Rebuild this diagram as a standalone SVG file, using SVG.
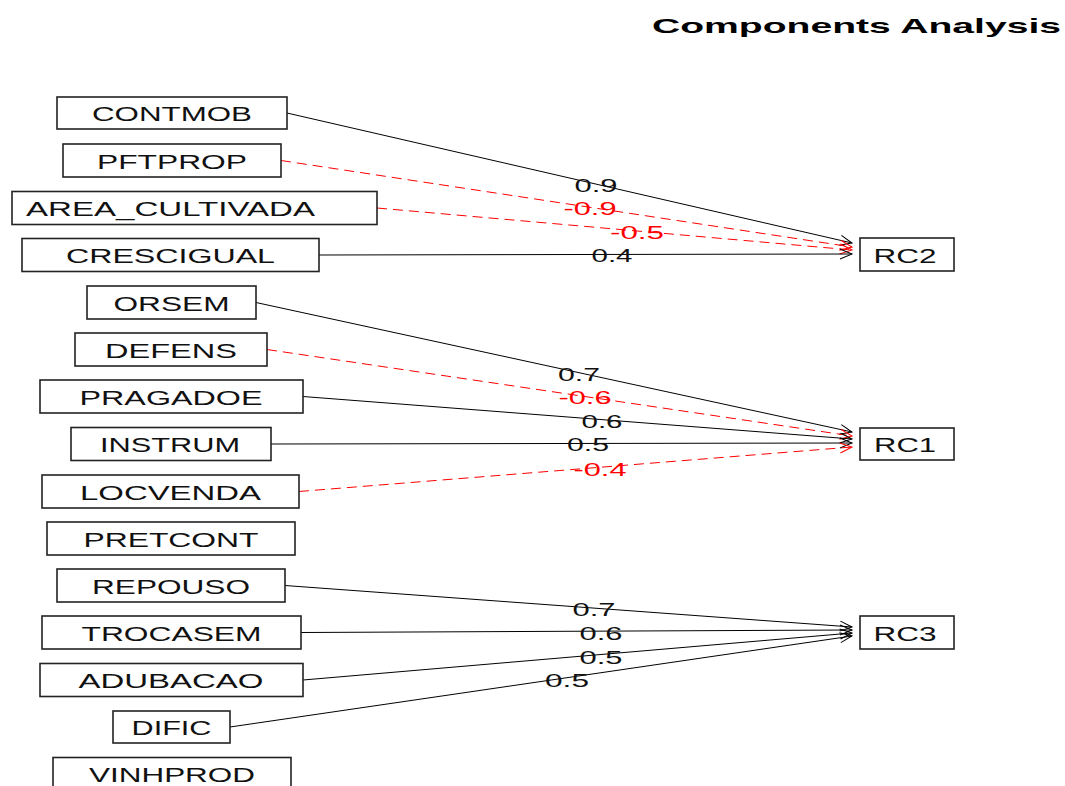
<svg xmlns="http://www.w3.org/2000/svg" width="1065" height="786" viewBox="0 0 1065 786">
<style>
.box{fill:#fff;stroke:#222;stroke-width:1.6}
.t{font-family:"Liberation Sans",Arial,sans-serif;font-size:20px;fill:#111;text-anchor:middle}
.n{font-family:"Liberation Sans",Arial,sans-serif;font-size:19px;fill:#111;text-anchor:middle}
.neg{fill:#ff0000}
.pos{stroke:#000;stroke-width:1;fill:none;marker-end:url(#ah)}
.dash{stroke:#ff0000;stroke-width:1;fill:none;stroke-dasharray:10,6;marker-end:url(#ahr)}
.title{font-family:"Liberation Sans",Arial,sans-serif;font-size:21px;font-weight:bold;fill:#000}
</style>
<defs>
<marker id="ah" markerUnits="userSpaceOnUse" markerWidth="20" markerHeight="20" refX="14" refY="10" orient="auto" viewBox="0 0 20 20">
<path d="M2,5 L14,10 L2,15" fill="none" stroke="#000" stroke-width="1"/>
</marker>
<marker id="ahr" markerUnits="userSpaceOnUse" markerWidth="20" markerHeight="20" refX="14" refY="10" orient="auto" viewBox="0 0 20 20">
<path d="M2,5 L14,10 L2,15" fill="none" stroke="#ff0000" stroke-width="1"/>
</marker>
</defs>
<rect width="1065" height="786" fill="#fff"/>
<text class="title" x="652" y="33" textLength="409" lengthAdjust="spacingAndGlyphs">Components Analysis</text>

<g id="connectors">
<line class="pos" x1="287" y1="113" x2="852" y2="243"/>
<line class="dash" x1="281" y1="160.5" x2="852" y2="247"/>
<line class="dash" x1="377" y1="208" x2="852" y2="250"/>
<line class="pos" x1="319" y1="255" x2="852" y2="254"/>
<line class="pos" x1="256" y1="302.5" x2="852" y2="432"/>
<line class="dash" x1="267" y1="349.5" x2="852" y2="436"/>
<line class="pos" x1="303" y1="396.5" x2="852" y2="439"/>
<line class="pos" x1="271" y1="444" x2="852" y2="443"/>
<line class="dash" x1="299" y1="491.5" x2="852" y2="447"/>
<line class="pos" x1="285" y1="585.5" x2="852" y2="627"/>
<line class="pos" x1="301" y1="632.5" x2="852" y2="630"/>
<line class="pos" x1="303" y1="680" x2="852" y2="633"/>
<line class="pos" x1="230" y1="727" x2="852" y2="636"/>
<text class="n" x="596" y="192" textLength="43" lengthAdjust="spacingAndGlyphs">0.9</text>
<text class="n neg" x="590" y="215" textLength="53" lengthAdjust="spacingAndGlyphs">-0.9</text>
<text class="n neg" x="637" y="239" textLength="54" lengthAdjust="spacingAndGlyphs">-0.5</text>
<text class="n" x="612" y="262" textLength="41" lengthAdjust="spacingAndGlyphs">0.4</text>
<text class="n" x="579" y="381" textLength="42" lengthAdjust="spacingAndGlyphs">0.7</text>
<text class="n neg" x="585" y="404" textLength="53" lengthAdjust="spacingAndGlyphs">-0.6</text>
<text class="n" x="602" y="428" textLength="41" lengthAdjust="spacingAndGlyphs">0.6</text>
<text class="n" x="588" y="451" textLength="42" lengthAdjust="spacingAndGlyphs">0.5</text>
<text class="n neg" x="600" y="476" textLength="53" lengthAdjust="spacingAndGlyphs">-0.4</text>
<text class="n" x="594" y="616" textLength="43" lengthAdjust="spacingAndGlyphs">0.7</text>
<text class="n" x="601" y="640" textLength="43" lengthAdjust="spacingAndGlyphs">0.6</text>
<text class="n" x="601" y="664" textLength="43" lengthAdjust="spacingAndGlyphs">0.5</text>
<text class="n" x="567" y="687" textLength="44" lengthAdjust="spacingAndGlyphs">0.5</text>
</g>

<g id="CONTMOB"><rect class="box" x="57" y="97" width="230" height="32"/><text class="t" x="172" y="121" textLength="160" lengthAdjust="spacingAndGlyphs">CONTMOB</text></g>
<g id="PFTPROP"><rect class="box" x="63" y="144" width="218" height="33"/><text class="t" x="172" y="168.5" textLength="150" lengthAdjust="spacingAndGlyphs">PFTPROP</text></g>
<g id="AREA_CULTIVADA"><rect class="box" x="12" y="191.5" width="365" height="33"/><text class="t" x="170.5" y="216" textLength="289" lengthAdjust="spacingAndGlyphs">AREA_CULTIVADA</text></g>
<g id="CRESCIGUAL"><rect class="box" x="22" y="238.5" width="297" height="33"/><text class="t" x="170.5" y="263" textLength="209" lengthAdjust="spacingAndGlyphs">CRESCIGUAL</text></g>
<g id="ORSEM"><rect class="box" x="87" y="286" width="169" height="33"/><text class="t" x="171.5" y="310.5" textLength="116" lengthAdjust="spacingAndGlyphs">ORSEM</text></g>
<g id="DEFENS"><rect class="box" x="75" y="333" width="192" height="33"/><text class="t" x="171" y="357.5" textLength="132" lengthAdjust="spacingAndGlyphs">DEFENS</text></g>
<g id="PRAGADOE"><rect class="box" x="40" y="380" width="263" height="33"/><text class="t" x="171" y="404.5" textLength="183" lengthAdjust="spacingAndGlyphs">PRAGADOE</text></g>
<g id="INSTRUM"><rect class="box" x="71" y="427.5" width="200" height="33"/><text class="t" x="170" y="452" textLength="140" lengthAdjust="spacingAndGlyphs">INSTRUM</text></g>
<g id="LOCVENDA"><rect class="box" x="42" y="475" width="257" height="33"/><text class="t" x="170.5" y="499.5" textLength="181" lengthAdjust="spacingAndGlyphs">LOCVENDA</text></g>
<g id="PRETCONT"><rect class="box" x="47" y="522" width="248" height="33"/><text class="t" x="171" y="546.5" textLength="175" lengthAdjust="spacingAndGlyphs">PRETCONT</text></g>
<g id="REPOUSO"><rect class="box" x="57" y="569" width="228" height="33"/><text class="t" x="171" y="593.5" textLength="158" lengthAdjust="spacingAndGlyphs">REPOUSO</text></g>
<g id="TROCASEM"><rect class="box" x="42" y="616" width="259" height="33"/><text class="t" x="171.5" y="640.5" textLength="180" lengthAdjust="spacingAndGlyphs">TROCASEM</text></g>
<g id="ADUBACAO"><rect class="box" x="40" y="663.5" width="263" height="33"/><text class="t" x="171" y="688" textLength="185" lengthAdjust="spacingAndGlyphs">ADUBACAO</text></g>
<g id="DIFIC"><rect class="box" x="113" y="711" width="117" height="32"/><text class="t" x="171.5" y="735" textLength="80" lengthAdjust="spacingAndGlyphs">DIFIC</text></g>
<g id="VINHPROD"><rect class="box" x="53" y="757.5" width="238" height="33"/><text class="t" x="172" y="782" textLength="166" lengthAdjust="spacingAndGlyphs">VINHPROD</text></g>
<g id="RC2"><rect class="box" x="860" y="238" width="94" height="33"/><text class="t" x="905" y="262.5" textLength="63" lengthAdjust="spacingAndGlyphs">RC2</text></g>
<g id="RC1"><rect class="box" x="860" y="428" width="94" height="32"/><text class="t" x="905" y="452" textLength="62" lengthAdjust="spacingAndGlyphs">RC1</text></g>
<g id="RC3"><rect class="box" x="860" y="616" width="94" height="33"/><text class="t" x="905" y="640.5" textLength="63" lengthAdjust="spacingAndGlyphs">RC3</text></g>
</svg>
